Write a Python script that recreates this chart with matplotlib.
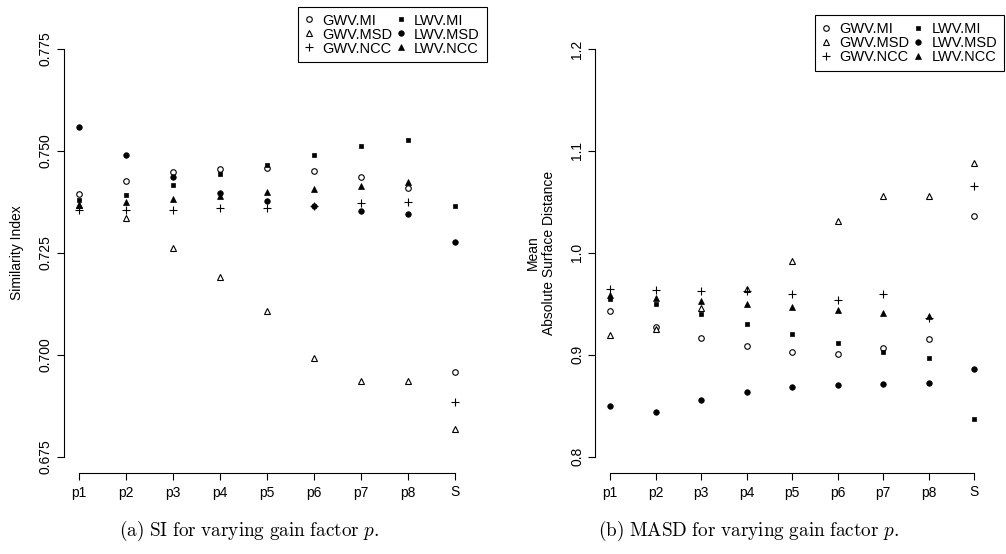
import numpy as np
import matplotlib
matplotlib.use("Agg")
import matplotlib.pyplot as plt
from matplotlib.lines import Line2D

plt.rcParams['font.family'] = ['Liberation Sans', 'DejaVu Sans']
plt.rcParams['mathtext.fontset'] = 'cm'

gain_labels = ['p1', 'p2', 'p3', 'p4', 'p5', 'p6', 'p7', 'p8', 'S']
series_names = ['GWV.MI', 'GWV.MSD', 'GWV.NCC', 'LWV.MI', 'LWV.MSD', 'LWV.NCC']

# Similarity index per gain factor
si_gwv_mi = [0.7395, 0.7427, 0.7448, 0.7456, 0.7458, 0.7451, 0.7436, 0.7410, 0.6957]
si_gwv_msd = [0.7368, 0.7335, 0.7262, 0.7191, 0.7107, 0.6991, 0.6935, 0.6935, 0.6818]
si_gwv_ncc = [0.7354, 0.7355, 0.7355, 0.7360, 0.7361, 0.7365, 0.7372, 0.7374, 0.6883]
si_lwv_mi = [0.7380, 0.7391, 0.7416, 0.7443, 0.7466, 0.7489, 0.7512, 0.7526, 0.7365]
si_lwv_msd = [0.7559, 0.7491, 0.7435, 0.7398, 0.7378, 0.7365, 0.7353, 0.7346, 0.7276]
si_lwv_ncc = [0.7368, 0.7374, 0.7383, 0.7390, 0.7399, 0.7407, 0.7415, 0.7423, np.nan]

# Mean absolute surface distance per gain factor
masd_gwv_mi = [0.9431, 0.9275, 0.9164, 0.9085, 0.9029, 0.9010, 0.9063, 0.9151, 1.0360]
masd_gwv_msd = [0.9193, 0.9249, 0.9461, 0.9641, 0.9922, 1.0308, 1.0559, 1.0559, 1.0882]
masd_gwv_ncc = [0.9641, 0.9634, 0.9625, 0.9625, 0.9592, 0.9533, 0.9592, 0.9357, 1.0654]
masd_lwv_mi = [0.9543, 0.9497, 0.9396, 0.9298, 0.9200, 0.9112, 0.9024, 0.8965, 0.8367]
masd_lwv_msd = [0.8494, 0.8438, 0.8559, 0.8634, 0.8683, 0.8706, 0.8716, 0.8725, 0.8860]
masd_lwv_ncc = [0.9585, 0.9553, 0.9526, 0.9497, 0.9465, 0.9435, 0.9409, 0.9382, np.nan]

# R-style point characters: pch 1, 2, 3, 15, 16, 17
styles = [
    dict(marker='o', ms=4.0, mfc='white', mec='black', mew=0.8),
    dict(marker='^', ms=4.6, mfc='white', mec='black', mew=0.8),
    dict(marker='+', ms=6.0, mfc='black', mec='black', mew=0.8),
    dict(marker='s', ms=3.4, mfc='black', mec='black', mew=0.5),
    dict(marker='o', ms=4.0, mfc='black', mec='black', mew=0.5),
    dict(marker='^', ms=4.6, mfc='black', mec='black', mew=0.5),
]

fig = plt.figure(figsize=(10.06, 5.54), dpi=100)
W, H = 1006.0, 554.0


def make_axes(x0, x1, y_top, y_bot):
    return fig.add_axes([x0 / W, 1 - y_bot / H, (x1 - x0) / W, (y_bot - y_top) / H])


def style_axes(ax, ymin, ymax, yticks, fmt):
    x = np.arange(1, len(gain_labels) + 1)
    ax.set_xlim(0.68, 9.32)
    pad = 0.04 * (ymax - ymin)
    ax.set_ylim(ymin - pad, ymax + pad)
    for s in ['top', 'right']:
        ax.spines[s].set_visible(False)
    ax.spines['left'].set_bounds(ymin, ymax)
    ax.spines['bottom'].set_bounds(1, 9)
    for s in ['left', 'bottom']:
        ax.spines[s].set_linewidth(0.8)
    ax.set_xticks(x)
    ax.set_xticklabels(gain_labels)
    ax.set_yticks(yticks)
    ax.set_yticklabels([fmt.format(v) for v in yticks], rotation=90, va='center')
    ax.tick_params(length=5, width=0.8, labelsize=10, pad=3)
    ax.tick_params(axis='x', pad=4)


def draw_panel(ax, series):
    x = np.arange(1, len(gain_labels) + 1)
    for vals, st, name in zip(series, styles, series_names):
        ax.plot(x, vals, linestyle='none', label=name, **st)


ax1 = make_axes(63.5, 470.5, 32.7, 473.0)
draw_panel(ax1, [si_gwv_mi, si_gwv_msd, si_gwv_ncc, si_lwv_mi, si_lwv_msd, si_lwv_ncc])
style_axes(ax1, 0.675, 0.775, [0.675, 0.700, 0.725, 0.750, 0.775], '{:.3f}')
ax1.set_ylabel('Similarity Index', fontsize=10, labelpad=10)

ax2 = make_axes(595.4, 988.9, 32.7, 473.0)
draw_panel(ax2, [masd_gwv_mi, masd_gwv_msd, masd_gwv_ncc, masd_lwv_mi, masd_lwv_msd, masd_lwv_ncc])
style_axes(ax2, 0.8, 1.2, [0.8, 0.9, 1.0, 1.1, 1.2], '{:.1f}')
ax2.set_ylabel('Mean\nAbsolute Surface Distance', fontsize=10, labelpad=10, linespacing=1.25)

legend_handles = [Line2D([], [], linestyle='none', **st) for st in styles]
leg_kw = dict(ncol=2, fontsize=10.5, frameon=True, fancybox=False, edgecolor='black',
              framealpha=1, handlelength=0.55, handletextpad=0.64, columnspacing=0.32,
              labelspacing=0.0, borderpad=0.47, borderaxespad=0)
leg1 = fig.legend(legend_handles, series_names, loc='upper left',
                  bbox_to_anchor=(297.7 / W, 1 - 6.7 / H), **leg_kw)
leg2 = fig.legend(legend_handles, series_names, loc='upper left',
                  bbox_to_anchor=(815.3 / W, 1 - 15.3 / H), **leg_kw)
for leg in (leg1, leg2):
    leg.get_frame().set_linewidth(0.8)

fig.text(249 / W, 1 - 531 / H, r'$\mathrm{(a)\ SI\ for\ varying\ gain\ factor}\ p.$',
         ha='center', va='center', fontsize=13.8)
fig.text(749 / W, 1 - 531 / H, r'$\mathrm{(b)\ MASD\ for\ varying\ gain\ factor}\ p.$',
         ha='center', va='center', fontsize=13.8)

fig.savefig('out.png', dpi=100)
